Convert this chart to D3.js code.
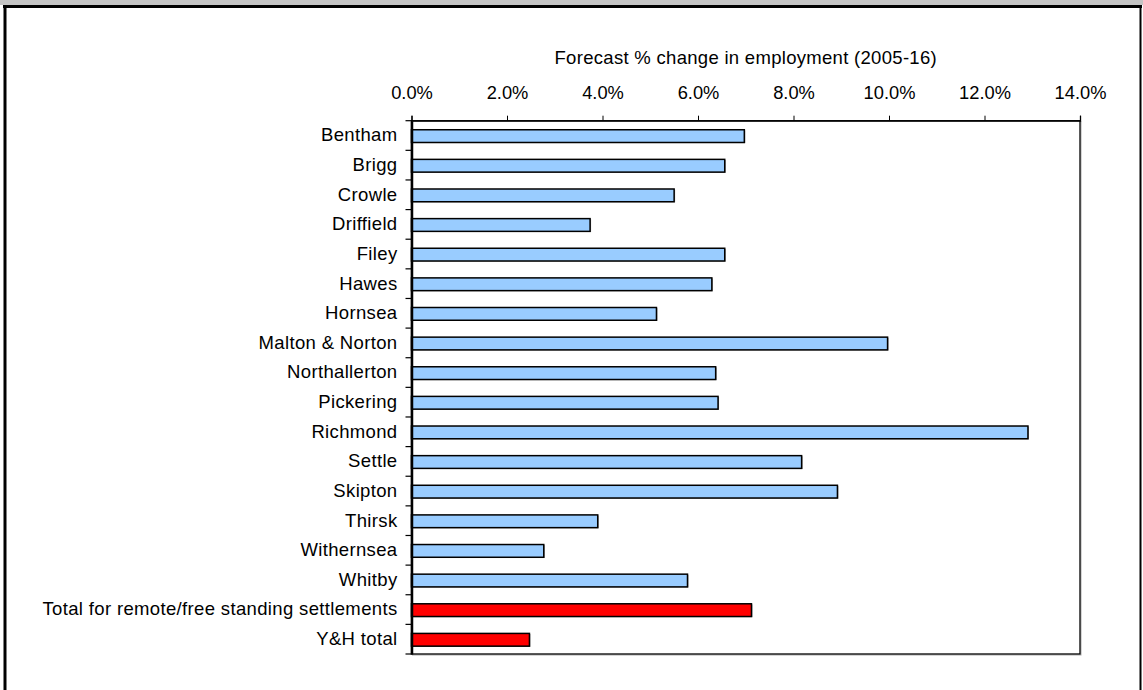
<!DOCTYPE html>
<html><head><meta charset="utf-8">
<script src="https://cdn.jsdelivr.net/npm/d3@7"></script>
<style>
html,body{margin:0;padding:0;background:#fff;}
svg{display:block;font-family:"Liberation Sans",Arial,sans-serif;}
</style></head>
<body>
<svg id="chart" width="1143" height="690"></svg>
<script>
const categories = ["Bentham","Brigg","Crowle","Driffield","Filey","Hawes","Hornsea","Malton & Norton","Northallerton","Pickering","Richmond","Settle","Skipton","Thirsk","Withernsea","Whitby","Total for remote/free standing settlements","Y&H total"];
const values = [6.97,6.56,5.50,3.74,6.56,6.29,5.13,9.97,6.37,6.42,12.91,8.17,8.92,3.90,2.77,5.78,7.12,2.47];
const highlighted = ["Total for remote/free standing settlements","Y&H total"];
const xTicks = [0,2,4,6,8,10,12,14];
const axisTitle = "Forecast % change in employment (2005-16)";

const svg = d3.select("#chart");
const W = 1143, H = 690;
const plot = {left: 411.5, right: 1080, top: 120.7, bottom: 654};

// outer frame
svg.append("rect").attr("x",0).attr("y",0).attr("width",W).attr("height",5).attr("fill","#c4c4c4");
svg.append("line").attr("x1",3).attr("x2",1142).attr("y1",6.5).attr("y2",6.5).attr("stroke","#000").attr("stroke-width",3);
svg.append("line").attr("x1",5).attr("x2",5).attr("y1",5).attr("y2",H).attr("stroke","#000").attr("stroke-width",3);
svg.append("line").attr("x1",1140.5).attr("x2",1140.5).attr("y1",5).attr("y2",H).attr("stroke","#000").attr("stroke-width",2);

const x = d3.scaleLinear().domain([0,14]).range([plot.left, plot.right]);
const y = d3.scaleBand().domain(categories).range([plot.top, plot.bottom]).paddingInner(0.57).paddingOuter(0.285);
const yb = d3.scaleBand().domain(categories).range([plot.top, plot.bottom]);

// plot box (top/right thin with shadow)
svg.append("rect").attr("x",plot.left+1).attr("y",plot.top+1).attr("width",plot.right-plot.left).attr("height",plot.bottom-plot.top)
  .attr("fill","none").attr("stroke","#aaa").attr("stroke-width",1);
svg.append("rect").attr("x",plot.left).attr("y",plot.top).attr("width",plot.right-plot.left).attr("height",plot.bottom-plot.top)
  .attr("fill","#fff").attr("stroke","#000").attr("stroke-width",1.3);

// bars
const g = svg.append("g");
g.selectAll("rect.shadow").data(categories).join("rect").attr("class","shadow")
  .attr("x", x(0)+1).attr("y", d=>y(d)+1.2)
  .attr("width", (d,i)=>x(values[i])-x(0)).attr("height", y.bandwidth())
  .attr("fill","#999");
g.selectAll("rect.bar").data(categories).join("rect").attr("class","bar")
  .attr("x", x(0)).attr("y", d=>y(d)+0.6)
  .attr("width", (d,i)=>x(values[i])-x(0)).attr("height", y.bandwidth())
  .attr("fill", d=>highlighted.includes(d)?"#ff0000":"#99ccff")
  .attr("stroke","#000").attr("stroke-width",1.5);

// x axis on top
const xAxis = d3.axisTop(x).tickValues(xTicks).tickFormat(d=>d3.format(".1f")(d)+"%").tickSize(5).tickPadding(17);
const xg = svg.append("g").attr("transform",`translate(0,${plot.top})`).call(xAxis);
xg.select(".domain").attr("stroke","#000").attr("stroke-width",1.3);
xg.selectAll(".tick line").attr("stroke","#000");
xg.selectAll("text").attr("font-size",18.3).attr("fill","#000").attr("font-family","Liberation Sans, Arial, sans-serif");

// y axis
const yAxis = d3.axisLeft(yb).tickSize(0).tickPadding(14);
const yg = svg.append("g").attr("transform",`translate(${plot.left},0)`).call(yAxis);
yg.select(".domain").attr("stroke","#000").attr("stroke-width",2.5);
yg.selectAll("text").attr("font-size",18.5).attr("letter-spacing","0.35px").attr("fill","#000").attr("font-family","Liberation Sans, Arial, sans-serif");
// ticks between categories
const bounds = categories.map(c=>yb(c)).concat([plot.bottom]);
yg.selectAll("line.bt").data(bounds).join("line").attr("class","bt")
  .attr("x1",-6).attr("x2",0).attr("y1",d=>d).attr("y2",d=>d).attr("stroke","#000").attr("stroke-width",1.2);

// axis title
svg.append("text").attr("x",(plot.left+plot.right)/2).attr("y",63.5).attr("text-anchor","middle")
  .attr("font-size",18.5).attr("letter-spacing","0.3px").attr("fill","#000").text(axisTitle);
</script>
</body></html>
